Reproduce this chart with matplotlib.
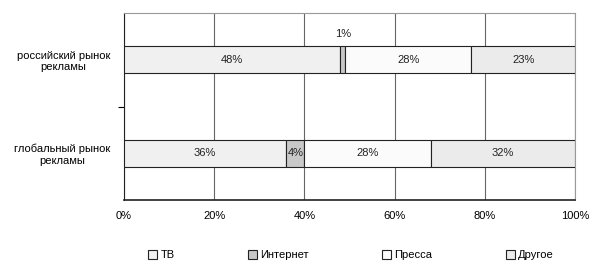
import matplotlib
matplotlib.use('Agg')
import matplotlib.pyplot as plt
from matplotlib.patches import Patch
import numpy as np

plt.rcParams['font.family'] = ['Liberation Sans', 'DejaVu Sans']

###############################################################
# data
###############################################################
categories = ['глобальный рынок\nрекламы', 'российский рынок\nрекламы']
series = ['ТВ', 'Интернет', 'Пресса', 'Другое']
tv = [36, 48]
internet = [4, 1]
press = [28, 28]
other = [32, 23]
x_ticks = [0, 20, 40, 60, 80, 100]

colors = ['#f0f0f0', '#c8c8c8', '#fbfbfb', '#ebebeb']

###############################################################
# figure
###############################################################
fig = plt.figure(figsize=(6, 2.7), dpi=100)
ax = fig.add_axes([124 / 600, 1 - 200 / 270, 451 / 600, 187 / 270])

fsize = 8
bar_h = 0.29
ypos = np.arange(len(categories))
left = np.zeros(len(categories))
values = [tv, internet, press, other]
for name, vals, col in zip(series, values, colors):
    vals = np.array(vals, dtype=float)
    ax.barh(ypos, vals, height=bar_h, left=left, color=col,
            edgecolor='#222222', linewidth=0.8, zorder=3)
    for i, v in enumerate(vals):
        cx = left[i] + v / 2
        if v < 2:
            ax.text(cx, ypos[i] + 0.28, f'{v:.0f}%', ha='center', va='center',
                    fontsize=fsize, color='#222222', zorder=4)
        else:
            ax.text(cx, ypos[i], f'{v:.0f}%', ha='center', va='center',
                    fontsize=fsize, color='#222222', zorder=4)
    left += vals

ax.set_xlim(0, 100)
ax.set_ylim(-0.5, 1.5)
ax.set_xticks(x_ticks)
ax.set_xticklabels([f'{t}%' for t in x_ticks], fontsize=fsize)
ax.set_yticks(ypos)
ax.set_yticklabels(categories, fontsize=fsize, multialignment='center')
ax.set_yticks([0.5], minor=True)
ax.tick_params(axis='y', which='major', length=0, pad=10)
ax.tick_params(axis='y', which='minor', length=4, width=0.8, direction='out')
ax.tick_params(axis='x', length=0, pad=8)

ax.grid(axis='x', color='#666666', linewidth=0.8, zorder=0)
ax.spines['left'].set_color('#222222')
ax.spines['bottom'].set_color('#222222')
ax.spines['bottom'].set_linewidth(1.2)
ax.spines['top'].set_color('#999999')
ax.spines['right'].set_color('#999999')

handles = [Patch(facecolor=c, edgecolor='#222222', linewidth=0.8) for c in colors]
fig.legend(handles, series, loc='center', bbox_to_anchor=(0.585, 0.055), ncol=4,
           frameon=False, fontsize=fsize, handlelength=0.8, handleheight=0.8,
           handletextpad=0.3, columnspacing=6.6)

fig.savefig('out.png', dpi=100)
